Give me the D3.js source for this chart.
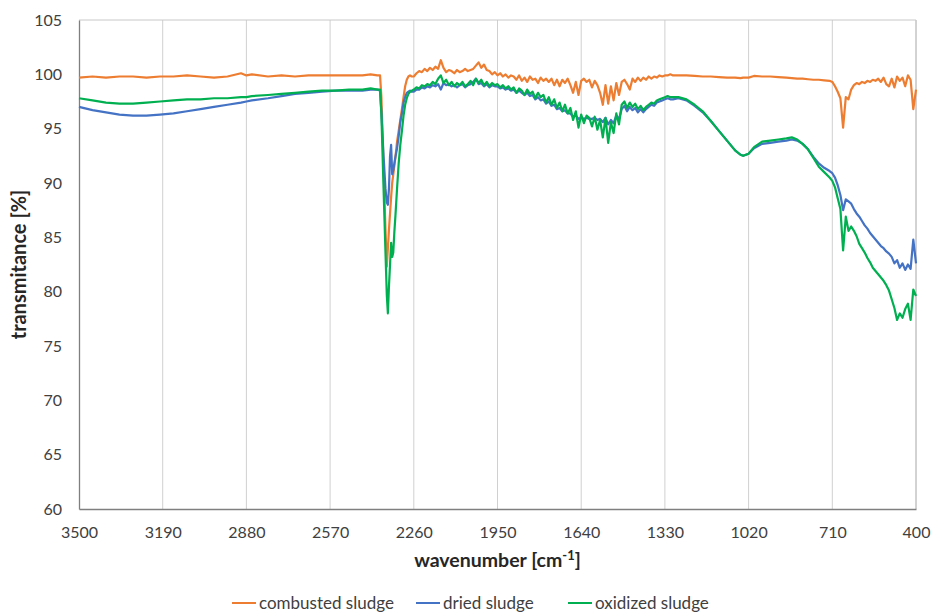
<!DOCTYPE html>
<html>
<head>
<meta charset="utf-8">
<script src="https://cdn.jsdelivr.net/npm/d3@7"></script>
<style>
  html, body { margin: 0; padding: 0; background: #fff; }
  svg { display: block; font-family: Lato, "Open Sans", sans-serif; }
</style>
</head>
<body>
<svg id="chart" width="933" height="613"></svg>
<script>
// FTIR spectra of sewage sludge samples

const seriesNames = ["combusted sludge", "dried sludge", "oxidized sludge"];
const seriesColors = ["#ED7D31", "#4472C4", "#00B050"];

const xTicks = [3500, 3190, 2880, 2570, 2260, 1950, 1640, 1330, 1020, 710, 400];
const yTicks = [60, 65, 70, 75, 80, 85, 90, 95, 100, 105];

// wavenumber grid [cm-1]
const wavenumbers = [
  3500, 3450, 3400, 3350, 3300, 3250, 3200, 3150, 3100, 3050, 3000, 2950, 2900, 2880, 2860, 2800, 2750, 2700, 2650, 2600, 2550, 2500, 2450, 2420, 2395, 2385,
  2380, 2372, 2365, 2360, 2356, 2352, 2348, 2344, 2340, 2336, 2332, 2328, 2322, 2316, 2310, 2304, 2298, 2292, 2286, 2280, 2274, 2268,
  2260, 2250, 2240, 2230, 2220, 2210, 2200, 2190, 2180, 2170,
  2160, 2150, 2140, 2130, 2120, 2110, 2100, 2090, 2080, 2070,
  2060, 2050, 2040, 2030, 2020, 2010, 2000, 1990, 1980, 1970,
  1960, 1950, 1940, 1930, 1920, 1910, 1900, 1890, 1880, 1870,
  1860, 1850, 1840, 1830, 1820, 1810, 1800, 1790, 1780, 1770,
  1760, 1750, 1740, 1730, 1720, 1710, 1700, 1690, 1680, 1670,
  1660, 1650, 1640, 1630, 1620, 1610, 1600, 1590, 1580, 1570,
  1560, 1550, 1540, 1530, 1520, 1510, 1500, 1490, 1480, 1470,
  1460, 1450, 1440, 1430, 1420, 1410, 1400, 1390, 1380, 1370,
  1360, 1350, 1340, 1330, 1320, 1310, 1300,
  1280, 1250, 1220, 1190, 1160, 1130, 1100, 1070, 1050, 1040, 1020, 1000, 970, 940, 910, 880, 860, 840, 820, 800, 780, 760, 740, 720,
  710, 700, 690, 680, 670, 660, 650, 640, 630, 620, 610, 600, 590, 580, 570, 560,
  550, 540, 530, 520, 510, 500, 490, 480, 470, 460, 450, 440, 430, 420, 410, 400
];

// transmittance [%]
const combusted = [
  99.7, 99.8, 99.7, 99.8, 99.8, 99.7, 99.8, 99.8, 99.9, 99.8, 99.7, 99.8, 100.1, 99.9, 100.0, 99.8, 99.9, 99.8, 99.9, 99.9, 99.9, 99.9, 99.9, 100.0, 99.9, 99.9,
  97.9, 91.4, 85.8, 82.3, 84.0, 85.7, 87.2, 88.7, 90.0, 90.8, 91.6, 92.4, 93.8, 94.8, 95.8, 96.8, 97.9, 98.9, 99.5, 99.8, 99.9, 99.8,
  99.8, 100.1, 100.3, 100.2, 100.5, 100.3, 100.6, 100.4, 100.7, 100.5,
  101.3, 100.6, 100.2, 100.4, 100.3, 100.1, 100.4, 100.2, 100.3, 100.5,
  100.3, 100.4, 100.5, 100.8, 101.1, 100.6, 100.9, 100.4, 100.3, 100.0,
  100.2, 99.9, 100.1, 99.8, 100.0, 99.7, 99.9, 99.8, 99.5, 99.9,
  99.4, 99.7, 99.3, 99.8, 99.5, 99.6, 99.2, 99.7, 99.4, 99.6,
  99.3, 99.6, 99.0, 99.5, 98.9, 99.5, 99.2, 99.6, 99.0, 98.3,
  99.3, 98.1, 99.4, 99.6, 99.3, 99.5, 98.8, 99.4, 99.0, 98.3,
  97.2, 99.0, 97.3, 98.9, 97.6, 99.2, 98.1, 99.3, 99.5, 99.1,
  98.6, 99.6, 99.3, 99.7, 99.4, 99.7, 99.5, 99.8, 99.6, 99.8,
  99.7, 99.9, 99.8, 99.9, 99.9, 100.0, 99.9,
  99.9, 99.9, 99.85, 99.8, 99.8, 99.75, 99.7, 99.7, 99.65, 99.7, 99.7, 99.85, 99.8, 99.8, 99.75, 99.7, 99.65, 99.6, 99.6, 99.55, 99.5, 99.5, 99.45, 99.4,
  99.3, 98.9, 98.4, 97.8, 95.1, 97.9, 97.7, 98.6, 99.0, 99.2, 99.1, 99.3, 99.2, 99.4, 99.3, 99.5,
  99.4, 99.6, 99.3, 99.7, 99.1, 98.9, 99.6, 98.8, 99.8, 99.4, 99.7, 98.9, 99.9, 99.5, 96.8, 98.6
];

const dried = [
  97.0, 96.7, 96.5, 96.3, 96.2, 96.2, 96.3, 96.4, 96.6, 96.8, 97.0, 97.2, 97.4, 97.5, 97.6, 97.8, 98.0, 98.2, 98.3, 98.4, 98.5, 98.5, 98.5, 98.6, 98.6, 98.5,
  96.5, 92.5, 89.5, 88.2, 88.0, 89.5, 92.5, 93.5, 90.8, 91.2, 91.8, 92.4, 93.2, 94.3, 95.6, 96.4, 97.4, 97.9, 98.3, 98.4, 98.5, 98.4,
  98.4, 98.6, 98.6, 98.8, 98.7, 98.9, 98.8, 99.0, 98.9, 99.1,
  98.6, 99.2, 99.0, 99.1, 98.9, 99.0, 98.8, 99.0, 99.1, 98.8,
  99.0, 99.1, 99.3, 99.6, 99.1, 99.2, 98.9, 99.1, 98.8, 99.0,
  98.9, 98.9, 98.7, 98.8, 98.6, 98.7, 98.5, 98.6, 98.3, 98.5,
  98.3, 98.1, 98.3, 98.0, 98.1, 97.7, 97.9, 97.6, 97.7, 97.3,
  97.5, 97.1, 97.2, 96.8, 96.9, 96.6, 96.7, 96.4, 96.4, 96.1,
  96.2, 95.9, 96.0, 95.9, 96.0, 95.9, 95.9, 96.0, 95.8, 95.9,
  95.6, 96.0, 95.4, 95.8, 95.5, 96.2, 95.9, 96.8, 97.1, 96.6,
  97.0, 96.7, 96.9, 96.5, 96.8, 96.5, 96.8, 97.0, 97.2, 97.1,
  97.4, 97.5, 97.6, 97.7, 97.8, 97.7, 97.7,
  97.8, 97.6, 97.1, 96.5, 95.7, 94.8, 93.9, 93.0, 92.6, 92.5, 92.7, 93.2, 93.6, 93.7, 93.8, 93.9, 94.0, 93.9, 93.6, 93.1, 92.4, 91.8, 91.4, 91.1,
  90.9, 90.5, 89.8, 88.9, 87.5, 88.5, 88.3, 88.1, 87.6, 87.2, 86.9, 86.5, 86.1, 85.8, 85.4, 85.1,
  84.8, 84.5, 84.2, 84.0, 83.7, 83.5, 83.2, 82.6, 82.9, 82.2, 82.6, 82.0, 82.5, 82.1, 84.8, 82.6
];

const oxidized = [
  97.8, 97.6, 97.4, 97.3, 97.3, 97.4, 97.5, 97.6, 97.7, 97.7, 97.8, 97.8, 97.9, 97.9, 98.0, 98.1, 98.2, 98.3, 98.4, 98.5, 98.5, 98.6, 98.6, 98.7, 98.6, 98.6,
  96.3, 89.5, 83.7, 79.7, 78.0, 80.5, 82.5, 84.5, 83.2, 83.6, 85.5, 87.0, 89.5, 91.8, 93.5, 94.8, 96.2, 97.2, 97.8, 98.2, 98.4, 98.5,
  98.6, 98.8, 98.7, 99.0, 98.9, 99.1, 99.0, 99.3, 99.1, 99.6,
  99.9, 99.2, 99.5, 99.0, 99.3, 98.9, 99.2, 99.0, 99.3, 98.9,
  99.1, 99.4, 99.0, 99.6, 99.2, 99.5, 99.0, 99.3, 98.9, 99.2,
  99.0, 99.1, 98.8, 99.0, 98.7, 98.9, 98.6, 98.8, 98.3, 98.7,
  98.5, 98.1, 98.6, 98.2, 98.4, 97.8, 98.3, 97.9, 98.1, 97.4,
  97.9, 97.2, 97.7, 96.9, 97.4, 96.6, 97.2, 96.4, 96.9, 95.8,
  96.6, 95.1, 96.3, 95.5, 96.2, 96.0, 95.2, 96.1, 94.9, 95.8,
  94.2, 96.0, 93.7, 95.6, 94.6, 96.4, 95.4, 97.2, 97.5, 96.9,
  97.4, 97.0, 97.3, 96.8, 97.1, 96.7, 97.0, 97.2, 97.4, 97.3,
  97.6, 97.7, 97.8, 97.9, 98.0, 97.9, 97.9,
  97.9, 97.7, 97.2, 96.6, 95.7, 94.8, 93.9, 93.0, 92.6, 92.5, 92.7, 93.3, 93.8, 93.9, 94.0, 94.1, 94.2, 94.0, 93.6, 93.1, 92.3, 91.5, 91.0, 90.5,
  90.2, 89.6, 88.6, 87.6, 83.8, 86.9, 85.6, 86.0, 85.6, 85.1, 84.4, 84.0, 83.6, 83.1, 82.7, 82.2,
  81.9, 81.6, 81.3, 81.0, 80.6, 80.1, 79.3, 78.5, 77.4, 78.0, 77.6, 78.4, 78.9, 77.4, 80.2, 79.6
];

const seriesValues = [combusted, dried, oxidized];

const svg = d3.select("#chart");
const margin = { left: 79, right: 17, top: 20, bottom: 104 };
const W = 933, H = 613;
const x = d3.scaleLinear().domain([3500, 400]).range([margin.left, W - margin.right]);
const y = d3.scaleLinear().domain([60, 105]).range([H - margin.bottom, margin.top]);

// vertical gridlines
svg.append("g")
  .selectAll("line")
  .data(xTicks.slice(1))
  .join("line")
  .attr("x1", d => x(d)).attr("x2", d => x(d))
  .attr("y1", y(60)).attr("y2", y(105))
  .attr("stroke", d => d === 400 ? "#a6a6a6" : "#d0d0d0")
  .attr("stroke-width", 1);

// top border
svg.append("line")
  .attr("x1", x(3500)).attr("x2", x(400))
  .attr("y1", y(105)).attr("y2", y(105))
  .attr("stroke", "#c8c8c8");

// axes
const xAxis = d3.axisBottom(x).tickValues(xTicks).tickSize(0).tickPadding(18).tickFormat(d3.format("d"));
const yAxis = d3.axisLeft(y).tickValues(yTicks).tickSize(0).tickPadding(17).tickFormat(d3.format("d"));

const gx = svg.append("g").attr("transform", `translate(0,${y(60)})`).call(xAxis);
const gy = svg.append("g").attr("transform", `translate(${x(3500)},0)`).call(yAxis);
[gx, gy].forEach(g => {
  g.select(".domain").attr("stroke", "#7f7f7f").attr("stroke-width", 1.3);
  g.selectAll("text").attr("fill", "#404040").style("font-size", "16px").style("font-family", "Lato, sans-serif");
});

// spectra
const line = d3.line()
  .x((d, i) => x(wavenumbers[i]))
  .y(d => y(d));

svg.append("g")
  .selectAll("path")
  .data(seriesValues)
  .join("path")
  .attr("d", d => line(d))
  .attr("fill", "none")
  .attr("stroke", (d, i) => seriesColors[i])
  .attr("stroke-width", 2.2)
  .attr("stroke-linejoin", "round");

// axis titles
svg.append("text")
  .attr("transform", `translate(26,${(y(60) + y(105)) / 2}) rotate(-90)`)
  .attr("text-anchor", "middle")
  .attr("fill", "#262626")
  .style("font-size", "20px")
  .style("font-weight", "bold")
  .text("transmitance [%]");

const xt = svg.append("text")
  .attr("x", (x(3500) + x(400)) / 2)
  .attr("y", 567)
  .attr("text-anchor", "middle")
  .attr("fill", "#262626")
  .style("font-size", "19.5px")
  .style("font-weight", "bold");
xt.append("tspan").text("wavenumber [cm");
xt.append("tspan").attr("dy", -7).style("font-size", "13px").text("-1");
xt.append("tspan").attr("dy", 7).text("]");

// legend
const legendX = [232, 416, 568];
const lg = svg.append("g").selectAll("g")
  .data(seriesNames)
  .join("g")
  .attr("transform", (d, i) => `translate(${legendX[i]},603)`);
lg.append("line")
  .attr("x1", 0).attr("x2", 24).attr("y1", 0).attr("y2", 0)
  .attr("stroke", (d, i) => seriesColors[i]).attr("stroke-width", 2);
lg.append("text")
  .attr("x", 27).attr("y", 6)
  .attr("fill", "#404040")
  .style("font-size", "17px")
  .text(d => d);
</script>
</body>
</html>
